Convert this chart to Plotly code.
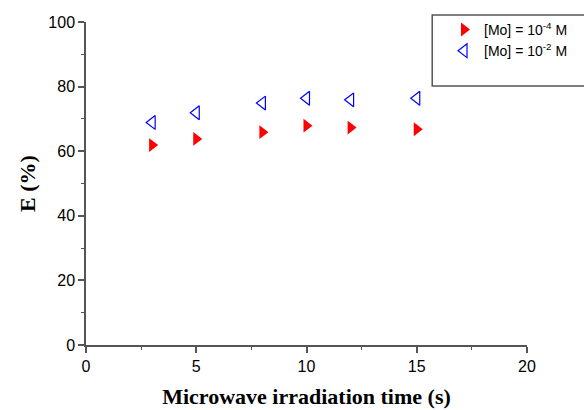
import plotly.graph_objects as go

time_s = [3, 5, 8, 10, 12, 15]
e_mo_1e4 = [61.9, 63.8, 65.9, 67.9, 67.3, 66.8]
e_mo_1e2 = [68.9, 71.9, 74.9, 76.4, 75.9, 76.4]
series_names = ["[Mo] = 10<sup>-4</sup> M", "[Mo] = 10<sup>-2</sup> M"]

fig = go.Figure()
fig.add_trace(go.Scatter(
    x=time_s, y=e_mo_1e4, mode="markers", name=series_names[0],
    marker=dict(symbol="triangle-right", color="#ff0000", size=12,
                line=dict(width=0)),
))
fig.add_trace(go.Scatter(
    x=time_s, y=e_mo_1e2, mode="markers", name=series_names[1],
    marker=dict(symbol="triangle-left-open", color="#0000ff", size=12,
                line=dict(width=1.2, color="#0000ff")),
))

axis_color = "#555555"
fig.update_layout(
    width=584, height=410,
    margin=dict(l=86, r=56, t=22, b=65),
    paper_bgcolor="white", plot_bgcolor="white",
    font=dict(family="Liberation Sans, Arial", size=15, color="black"),
    showlegend=True,
    legend=dict(
        x=0.81, y=1.025, xanchor="left", yanchor="top",
        bgcolor="rgba(0,0,0,0)", borderwidth=0,
        font=dict(family="Liberation Sans, Arial", size=14),
        itemwidth=30, tracegroupgap=0,
    ),
    xaxis=dict(
        range=[0, 20], tickvals=[0, 5, 10, 15, 20],
        showline=True, linecolor=axis_color, linewidth=1.5,
        ticks="outside", ticklen=6, tickwidth=1.5, tickcolor=axis_color,
        minor=dict(ticks="outside", ticklen=3, tickwidth=1, tickcolor=axis_color,
                   dtick=2.5, tick0=0),
        showgrid=False, zeroline=False, automargin=False,
        tickfont=dict(size=16),
        title=dict(text="<b>Microwave irradiation time (s)</b>",
                   font=dict(family="Liberation Serif, Times New Roman", size=22),
                   standoff=15),
    ),
    yaxis=dict(
        range=[0, 100], tickvals=[0, 20, 40, 60, 80, 100],
        showline=True, linecolor=axis_color, linewidth=1.5,
        ticks="outside", ticklen=6, tickwidth=1.5, tickcolor=axis_color,
        minor=dict(ticks="outside", ticklen=3, tickwidth=1, tickcolor=axis_color,
                   dtick=10, tick0=0),
        showgrid=False, zeroline=False, automargin=False,
        tickfont=dict(size=16),
        title=dict(text="<b>E (%)</b>",
                   font=dict(family="Liberation Serif, Times New Roman", size=22),
                   standoff=7),
    ),
    shapes=[dict(
        type="rect", xref="paper", yref="paper",
        x0=(433 - 86) / 442, x1=1.2,
        y0=(345 - 86) / 323, y1=(345 - 15) / 323,
        line=dict(color="#555555", width=1.5), fillcolor="rgba(0,0,0,0)",
    )],
)

fig.write_html("out.html")
